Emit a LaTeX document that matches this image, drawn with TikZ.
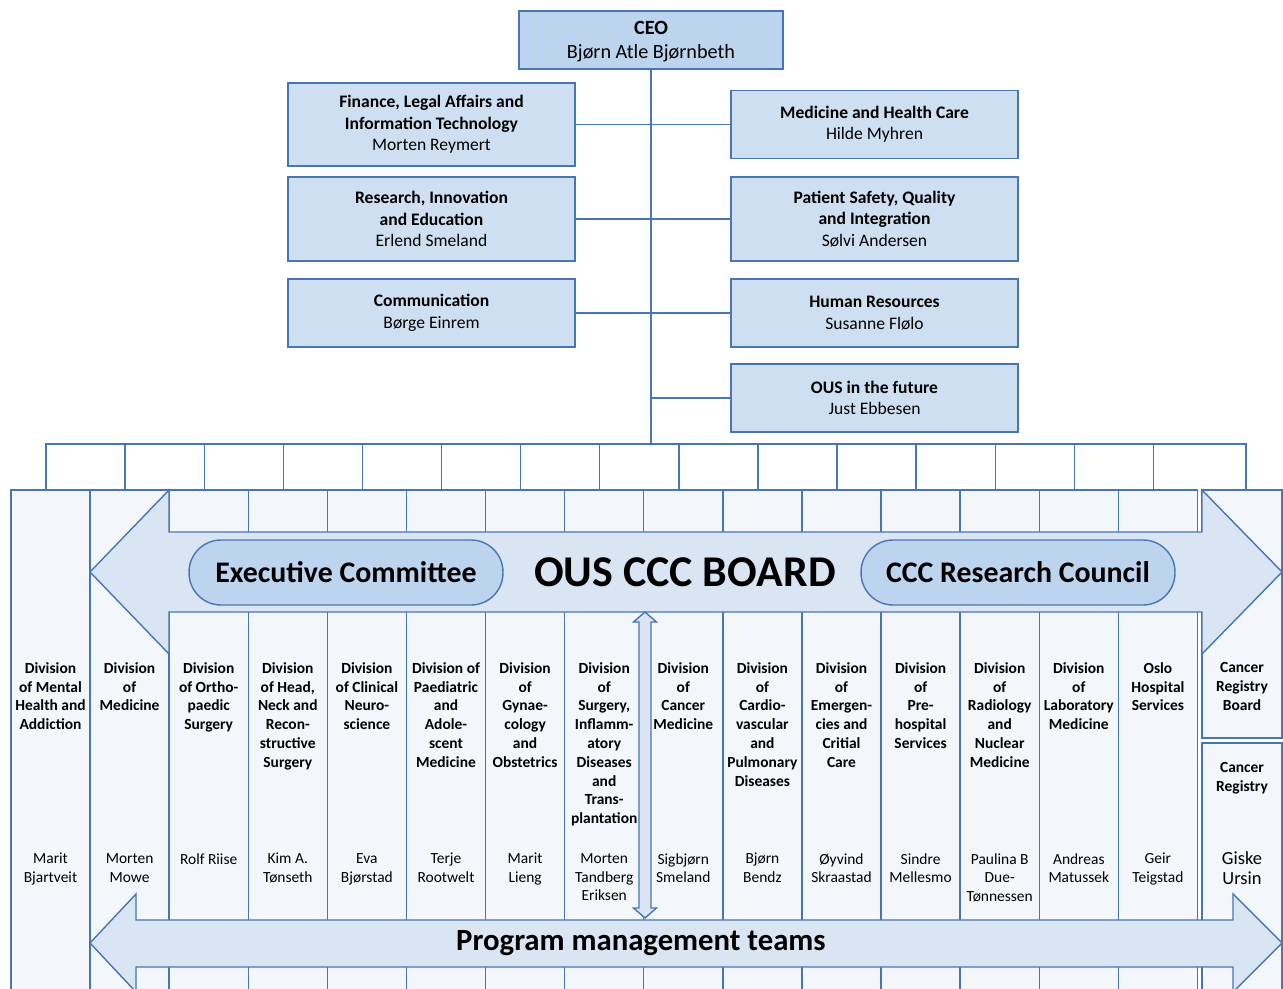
\documentclass[tikz,border=0pt]{standalone}
\usepackage{fontspec}
\setmainfont{Carlito}
\usepackage{xcolor}
\usepackage{tikz}
\usetikzlibrary{positioning}

\definecolor{linecol}{RGB}{72,118,176}
\definecolor{ceofill}{RGB}{189,212,238}
\definecolor{boxfill}{RGB}{207,223,242}
\definecolor{colfill}{RGB}{243,246,251}
\definecolor{arrowfill}{RGB}{218,229,244}
\definecolor{pillfill}{RGB}{189,212,238}

\tikzset{
  conn/.style={draw=linecol, line width=0.8pt},
  topbox/.style={draw=linecol, fill=boxfill, line width=0.8pt, align=center,
    minimum width=5.74cm, inner sep=0pt, font=\fontsize{10}{12.2}\selectfont},
  ceobox/.style={topbox, fill=ceofill, minimum width=5.28cm, minimum height=1.16cm,
    font=\fontsize{11.5}{14}\selectfont},
  colbox/.style={draw=linecol, fill=colfill, line width=0.8pt, minimum width=1.582cm,
    minimum height=10.4cm, inner sep=0pt},
  divtitle/.style={anchor=north, align=center, inner sep=0pt,
    font=\bfseries\fontsize{8.8}{10.7}\selectfont},
  divname/.style={anchor=north, align=center, inner sep=0pt,
    font=\fontsize{8.8}{10.7}\selectfont},
  pill/.style={draw=linecol, fill=pillfill, line width=0.8pt, rounded corners=0.64cm,
    minimum width=6.28cm, minimum height=1.3cm, inner sep=0pt,
    font=\bfseries\fontsize{17}{20}\selectfont},
  bigarrow/.style={draw=linecol, fill=arrowfill, line width=0.8pt}
}

\begin{document}
\begin{tikzpicture}[x=0.02cm, y=-0.02cm]
    \useasboundingbox (0,0) rectangle (1283,989);
    \clip (0,0) rectangle (1283,989);

    % management
    \node[ceobox] (ceo) at (651,40) {};
    \node[font=\fontsize{11.5}{14}\selectfont, align=center, inner sep=0pt] (ceot) at (651,41.5)
        {\textbf{CEO}\\Bjørn Atle Bjørnbeth};
    \node[topbox, minimum height=1.66cm] (fin) at (431.5,124.5)
        {\textbf{Finance, Legal Affairs and}\\\textbf{Information Technology}\\Morten Reymert};
    \node[topbox, minimum height=1.68cm] (res) at (431.5,219)
        {\textbf{Research, Innovation}\\\textbf{and Education}\\Erlend Smeland};
    \node[topbox, minimum height=1.36cm] (com) at (431.5,313)
        {\textbf{Communication}\\Børge Einrem};
    \node[topbox, minimum height=1.36cm] (med) at (874.5,124.5)
        {\textbf{Medicine and Health Care}\\Hilde Myhren};
    \node[topbox, minimum height=1.68cm] (pat) at (874.5,219)
        {\textbf{Patient Safety, Quality}\\\textbf{and Integration}\\Sølvi Andersen};
    \node[topbox, minimum height=1.36cm] (hr) at (874.5,313)
        {\textbf{Human Resources}\\Susanne Flølo};
    \node[topbox, minimum height=1.36cm] (ous) at (874.5,398)
        {\textbf{OUS in the future}\\Just Ebbesen};

    \coordinate (bus) at (651,444);
    \draw[conn] (ceo.south) -- (bus);
    \draw[conn] (fin.east) -- (med.west);
    \draw[conn] (res.east) -- (pat.west);
    \draw[conn] (com.east) -- (hr.west);
    \draw[conn] (ous.west) -- (ous.west -| bus);

    % divisions
    \node[colbox] (c1) at (50.5,750) {};
    \node[colbox] (c2) at (129.6,750) {};
    \node[colbox] (c3) at (208.7,750) {};
    \node[colbox] (c4) at (287.8,750) {};
    \node[colbox] (c5) at (366.9,750) {};
    \node[colbox] (c6) at (446,750) {};
    \node[colbox] (c7) at (525.1,750) {};
    \node[colbox] (c8) at (604.2,750) {};
    \node[colbox] (c9) at (683.3,750) {};
    \node[colbox] (c10) at (762.4,750) {};
    \node[colbox] (c11) at (841.5,750) {};
    \node[colbox] (c12) at (920.6,750) {};
    \node[colbox] (c13) at (999.7,750) {};
    \node[colbox] (c14) at (1078.8,750) {};
    \node[colbox] (c15) at (1157.9,750) {};
    \node[colbox, minimum width=1.6cm, minimum height=4.96cm] (regb) at (1242,614) {};
    \node[colbox, minimum width=1.6cm, minimum height=5.34cm] (reg) at (1242,876.5) {};

    \draw[conn] ([xshift=-0.09cm]c1.north) |- (bus);
    \draw[conn] ([xshift=-0.09cm]c2.north) |- (bus);
    \draw[conn] ([xshift=-0.09cm]c3.north) |- (bus);
    \draw[conn] ([xshift=-0.09cm]c4.north) |- (bus);
    \draw[conn] ([xshift=-0.09cm]c5.north) |- (bus);
    \draw[conn] ([xshift=-0.09cm]c6.north) |- (bus);
    \draw[conn] ([xshift=-0.09cm]c7.north) |- (bus);
    \draw[conn] ([xshift=-0.09cm]c8.north) |- (bus);
    \draw[conn] ([xshift=-0.09cm]c9.north) |- (bus);
    \draw[conn] ([xshift=-0.09cm]c10.north) |- (bus);
    \draw[conn] ([xshift=-0.09cm]c11.north) |- (bus);
    \draw[conn] ([xshift=-0.09cm]c12.north) |- (bus);
    \draw[conn] ([xshift=-0.09cm]c13.north) |- (bus);
    \draw[conn] ([xshift=-0.09cm]c14.north) |- (bus);
    \draw[conn] ([xshift=-0.09cm]c15.north) |- (bus);
    \draw[conn] ([xshift=0.08cm]regb.north) |- (bus);

    \node[divtitle] (t1) at (50.5,662) {Division\\of Mental\\Health and\\Addiction};
    \node[divtitle] (t2) at (129.6,662) {Division\\of\\Medicine};
    \node[divtitle] (t3) at (208.7,662) {Division\\of Ortho-\\paedic\\Surgery};
    \node[divtitle] (t4) at (287.8,662) {Division\\of Head,\\Neck and\\Recon-\\structive\\Surgery};
    \node[divtitle] (t5) at (366.9,662) {Division\\of Clinical\\Neuro-\\science};
    \node[divtitle] (t6) at (446,662) {Division of\\Paediatric\\and\\Adole-\\scent\\Medicine};
    \node[divtitle] (t7) at (525.1,662) {Division\\of\\Gynae-\\cology\\and\\Obstetrics};
    \node[divtitle] (t8) at (604.2,662) {Division\\of\\Surgery,\\Inflamm-\\atory\\Diseases\\and\\Trans-\\plantation};
    \node[divtitle] (t9) at (683.3,662) {Division\\of\\Cancer\\Medicine};
    \node[divtitle] (t10) at (762.4,662) {Division\\of\\Cardio-\\vascular\\and\\Pulmonary\\Diseases};
    \node[divtitle] (t11) at (841.5,662) {Division\\of\\Emergen-\\cies and\\Critial\\Care};
    \node[divtitle] (t12) at (920.6,662) {Division\\of\\Pre-\\hospital\\Services};
    \node[divtitle] (t13) at (999.7,662) {Division\\of\\Radiology\\and\\Nuclear\\Medicine};
    \node[divtitle] (t14) at (1078.8,662) {Division\\of\\Laboratory\\Medicine};
    \node[divtitle] (t15) at (1157.9,662) {Oslo\\Hospital\\Services};
    \node[divtitle] (tregb) at (1242,662) {Cancer\\Registry\\Board};
    \node[divtitle] (treg) at (1242,762) {Cancer\\Registry};

    \node[divname] (n1) at (50.5,853) {Marit\\Bjartveit};
    \node[divname] (n2) at (129.6,853) {Morten\\Mowe};
    \node[divname] (n3) at (208.7,853) {Rolf Riise};
    \node[divname] (n4) at (287.8,853) {Kim A.\\Tønseth};
    \node[divname] (n5) at (366.9,853) {Eva\\Bjørstad};
    \node[divname] (n6) at (446,853) {Terje\\Rootwelt};
    \node[divname] (n7) at (525.1,853) {Marit\\Lieng};
    \node[divname] (n8) at (604.2,853) {Morten\\Tandberg\\Eriksen};
    \node[divname] (n9) at (683.3,853) {Sigbjørn\\Smeland};
    \node[divname] (n10) at (762.4,853) {Bjørn\\Bendz};
    \node[divname] (n11) at (841.5,853) {Øyvind\\Skraastad};
    \node[divname] (n12) at (920.6,853) {Sindre\\Mellesmo};
    \node[divname] (n13) at (999.7,853) {Paulina B\\Due-\\Tønnessen};
    \node[divname] (n14) at (1078.8,853) {Andreas\\Matussek};
    \node[divname] (n15) at (1157.9,853) {Geir\\Teigstad};
    \node[divname, font=\fontsize{10.5}{11.5}\selectfont] (nreg) at (1242,851) {Giske\\Ursin};

    % board arrow
    \draw[bigarrow] (90,572) -- (169,490) -- (169,532) -- (1202,532) -- (1202,490)
        -- (1282,572) -- (1202,654) -- (1202,612) -- (169,612) -- (169,654) -- cycle;
    \node[pill] (exec) at (346,572.5) {Executive Committee};
    \node[pill] (council) at (1018,572.5) {CCC Research Council};
    \node[font=\bfseries\fontsize{25}{30}\selectfont, inner sep=0pt] (board) at (685,572) {OUS CCC BOARD};

    \draw[bigarrow] (645,612) -- (656.5,622) -- (651,622) -- (651,908) -- (656.5,908)
        -- (645,918) -- (633.5,908) -- (639,908) -- (639,622) -- (633.5,622) -- cycle;

    % program arrow
    \draw[bigarrow] (90,943) -- (136,894) -- (136,920) -- (1233,920) -- (1233,894)
        -- (1282,943) -- (1233,992) -- (1233,967) -- (136,967) -- (136,992) -- cycle;
    \node[font=\bfseries\fontsize{17.5}{21}\selectfont, inner sep=0pt] (pmt) at (641,943) {Program management teams};
\end{tikzpicture}
\end{document}
